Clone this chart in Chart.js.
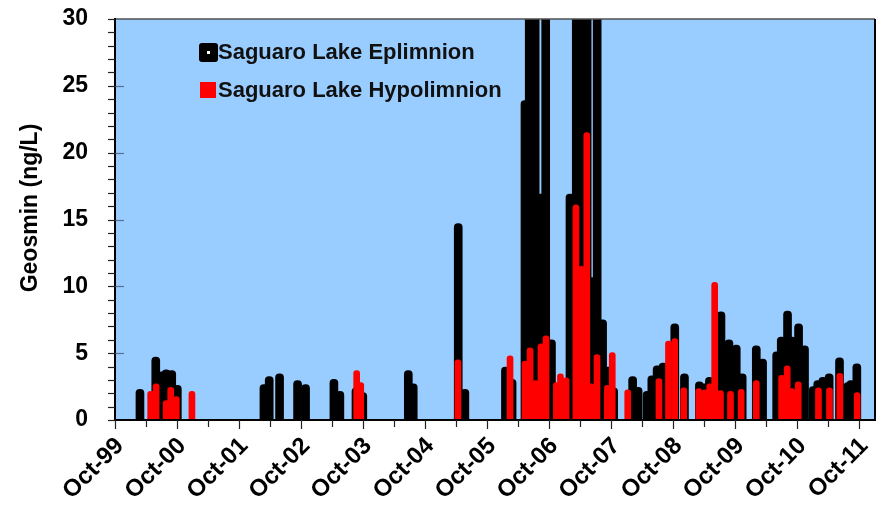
<!DOCTYPE html>
<html>
<head>
<meta charset="utf-8">
<script src="https://cdn.jsdelivr.net/npm/chart.js@4"></script>
<style>
  html, body { margin: 0; padding: 0; background: #fff; }
  #wrap { width: 881px; height: 523px; }
</style>
</head>
<body>
<div id="wrap"><canvas id="geosminChart" width="881" height="523"></canvas></div>
<script>
// sample dates and geosmin (ng/L), values above 30 run off the top of the plot
const epiDates = ['2000-02-25','2000-05-28','2000-07-02','2000-07-28','2000-08-30','2000-10-02',
  '2002-02-24','2002-03-27','2002-05-27','2002-09-10','2002-10-27','2003-04-12','2003-05-17',
  '2003-08-20','2003-09-29','2004-06-23','2004-07-22','2005-04-13','2005-05-22','2006-01-16',
  '2006-02-24','2006-05-11','2006-06-05','2006-07-10','2006-08-11','2006-09-10','2006-10-14',
  '2007-01-31','2007-03-09','2007-04-10','2007-05-12','2007-06-10','2007-07-10','2007-08-11',
  '2007-09-12','2007-10-15','2008-02-04','2008-03-07','2008-04-29','2008-05-27','2008-06-27',
  '2008-08-01','2008-10-09','2008-12-05','2009-03-03','2009-04-04','2009-05-01','2009-07-08',
  '2009-08-24','2009-10-06','2009-11-10','2010-02-01','2010-03-10','2010-06-01','2010-06-28',
  '2010-08-04','2010-08-29','2010-10-08','2010-11-12','2011-01-02','2011-01-29','2011-02-28',
  '2011-04-06','2011-06-06','2011-07-25','2011-08-12','2011-09-16'];
const epiValues = [2.3, 4.7, 3.6, 3.75, 3.7, 2.6,
  2.65, 3.25, 3.45, 2.95, 2.65, 3.05, 2.15,
  2.4, 2.05, 3.7, 2.7, 14.7, 2.3, 3.95,
  3.05, 23.9, 42, 38, 16.9, 45, 6.0,
  16.9, 40, 44, 36, 10.65, 39, 7.5,
  3.95, 2.4, 3.25, 2.45, 2.15, 3.3, 4.05,
  4.25, 7.2, 3.45, 2.85, 2.7, 3.2, 8.1,
  6.0, 5.6, 3.45, 5.55, 4.55, 5.1, 6.2,
  8.15, 6.2, 7.2, 5.55, 2.5, 2.95, 3.2,
  3.45, 4.65, 2.8, 2.95, 4.2];

const hypoDates = ['2000-04-28','2000-05-30','2000-07-28','2000-08-24','2000-09-26','2000-12-27',
  '2003-08-24','2003-09-17','2005-04-11','2006-02-12','2006-05-11','2006-06-10','2006-07-11',
  '2006-08-13','2006-09-12','2006-11-12','2006-12-06','2007-01-08','2007-03-07','2007-04-08',
  '2007-05-10','2007-06-06','2007-07-09','2007-09-08','2007-10-07','2008-01-06','2008-07-08',
  '2008-09-02','2008-10-09','2008-12-01','2009-02-27','2009-04-04','2009-05-03','2009-06-01',
  '2009-07-05','2009-09-02','2009-11-04','2010-02-01','2010-06-30','2010-08-02','2010-08-29',
  '2010-10-06','2011-02-02','2011-04-08','2011-06-08','2011-09-18'];
const hypoValues = [2.15, 2.7, 1.45, 2.45, 1.75, 2.15,
  3.7, 2.8, 4.5, 4.8, 4.4, 5.4, 2.95,
  5.7, 6.3, 2.8, 3.45, 3.15, 16.1, 11.5,
  21.5, 2.7, 4.9, 2.6, 5.05, 2.25, 3.1,
  5.9, 6.1, 2.4, 2.35, 2.25, 2.7, 10.3,
  2.2, 2.15, 2.3, 2.95, 3.35, 4.05, 2.35,
  2.85, 2.4, 2.4, 3.5, 2.05];

const xTickLabels = ['Oct-99','Oct-00','Oct-01','Oct-02','Oct-03','Oct-04','Oct-05',
  'Oct-06','Oct-07','Oct-08','Oct-09','Oct-10','Oct-11'];
const seriesNames = ['Saguaro Lake Eplimnion', 'Saguaro Lake Hypolimnion'];
const yTitle = 'Geosmin (ng/L)';

const FONT = '"Liberation Sans", Arial, sans-serif';
const toTime = s => Date.parse(s + 'T00:00:00Z');
const xMin = Date.UTC(1999, 9, 1);
const xMax = Date.UTC(2012, 0, 1);

const epiPoints = epiDates.map((d, i) => ({ x: toTime(d), y: epiValues[i] }));
const hypoPoints = hypoDates.map((d, i) => ({ x: toTime(d), y: hypoValues[i] }));

// keep the plot box where the original one sits
function noPad(scale) {
  scale.paddingLeft = 0;
  scale.paddingRight = 0;
  scale.paddingTop = 0;
  scale.paddingBottom = 0;
}

// light blue plot area, frame, tick marks, axis title and the in-plot legend
const plotDecor = {
  id: 'plotDecor',
  beforeDraw(chart) {
    const a = chart.chartArea, ctx = chart.ctx;
    ctx.save();
    ctx.fillStyle = '#99CCFF';
    ctx.fillRect(a.left, a.top, a.right - a.left, a.bottom - a.top);
    ctx.restore();
  },
  afterDraw(chart) {
    const a = chart.chartArea, ctx = chart.ctx;
    const xs = chart.scales.x, ys = chart.scales.y;
    ctx.save();
    // frame
    ctx.strokeStyle = '#505050';
    ctx.lineWidth = 1.5;
    ctx.beginPath();
    ctx.moveTo(a.left, a.top); ctx.lineTo(a.right, a.top);
    ctx.stroke();
    ctx.strokeStyle = '#000';
    ctx.lineWidth = 2;
    ctx.beginPath();
    ctx.moveTo(a.right, a.top); ctx.lineTo(a.right, a.bottom);
    ctx.moveTo(a.left, a.top - 1); ctx.lineTo(a.left, a.bottom);
    ctx.lineTo(a.right + 1, a.bottom);
    ctx.stroke();

    // y ticks: every unit outside, major ones also poke inside
    ctx.lineWidth = 1.2;
    for (let v = 0; v <= 30; v++) {
      const y = Math.round(ys.getPixelForValue(v)) + 0.5;
      ctx.strokeStyle = '#222';
      ctx.beginPath();
      ctx.moveTo(a.left - 7, y); ctx.lineTo(a.left, y);
      ctx.stroke();
      if (v % 5 === 0 && v > 0 && v < 30) {
        ctx.strokeStyle = 'rgba(70,80,100,0.75)';
        ctx.beginPath();
        ctx.moveTo(a.left, y); ctx.lineTo(a.left + 9, y);
        ctx.stroke();
      }
    }
    // x ticks: October major, April minor
    ctx.strokeStyle = '#222';
    for (let yr = 1999; yr <= 2011; yr++) {
      [[Date.UTC(yr, 9, 1), 9], [Date.UTC(yr + 1, 3, 1), 7]].forEach(([t, len]) => {
        if (t < xMin || t > xMax) return;
        const x = Math.round(xs.getPixelForValue(t)) + 0.5;
        ctx.beginPath();
        ctx.moveTo(x, a.bottom); ctx.lineTo(x, a.bottom + len);
        ctx.stroke();
      });
    }

    // y axis title
    ctx.save();
    ctx.translate(31, 208);
    ctx.rotate(-Math.PI / 2);
    ctx.font = 'bold 23px ' + FONT;
    ctx.textAlign = 'center';
    ctx.textBaseline = 'middle';
    ctx.fillStyle = '#000';
    ctx.fillText(yTitle, 0, 0);
    ctx.restore();

    // legend
    ctx.font = 'bold 22px ' + FONT;
    ctx.textBaseline = 'middle';
    ctx.textAlign = 'left';
    ctx.fillStyle = '#000';
    ctx.beginPath();
    ctx.roundRect(199, 43, 19, 19, 3);
    ctx.fill();
    ctx.fillStyle = '#fff';
    ctx.fillRect(207, 51, 3, 3);
    ctx.fillStyle = '#ff0000';
    ctx.fillRect(200, 82, 16, 16);
    ctx.fillStyle = '#111';
    ctx.fillText(seriesNames[0], 218, 53);
    ctx.fillText(seriesNames[1], 218, 91);
    ctx.restore();
  }
};

const ctx = document.getElementById('geosminChart').getContext('2d');
new Chart(ctx, {
  type: 'bar',
  data: {
    datasets: [
      {
        label: seriesNames[0],
        data: epiPoints,
        backgroundColor: '#000000',
        barThickness: 8,
        borderRadius: { topLeft: 4, topRight: 4, bottomLeft: 0, bottomRight: 0 },
        borderSkipped: false,
        grouped: false,
        order: 2
      },
      {
        label: seriesNames[1],
        data: hypoPoints,
        backgroundColor: '#ff0000',
        barThickness: 6,
        borderRadius: { topLeft: 3, topRight: 3, bottomLeft: 0, bottomRight: 0 },
        borderSkipped: false,
        grouped: false,
        order: 1
      }
    ]
  },
  options: {
    responsive: false,
    animation: false,
    layout: { padding: { left: 0, right: 6, top: 19, bottom: 0 } },
    plugins: {
      legend: { display: false },
      tooltip: { enabled: false }
    },
    scales: {
      x: {
        type: 'linear',
        min: xMin,
        max: xMax,
        offset: false,
        grid: { display: false, drawTicks: false },
        border: { display: false },
        afterBuildTicks: scale => {
          scale.ticks = xTickLabels.map((_, i) => ({ value: Date.UTC(1999 + i, 9, 1) }));
        },
        afterFit: scale => { scale.height = 103; noPad(scale); },
        ticks: {
          autoSkip: false,
          minRotation: 45,
          maxRotation: 45,
          padding: 12,
          labelOffset: 5,
          color: '#000',
          font: { family: FONT, size: 24, weight: 'bold' },
          callback: (v, i) => xTickLabels[i]
        }
      },
      y: {
        min: 0,
        max: 30,
        grid: { display: false, drawTicks: false },
        border: { display: false },
        afterFit: scale => { scale.width = 115; noPad(scale); },
        ticks: {
          stepSize: 5,
          padding: 27,
          color: '#000',
          font: { family: FONT, size: 23, weight: 'bold' }
        }
      }
    }
  },
  plugins: [plotDecor]
});
</script>
</body>
</html>
